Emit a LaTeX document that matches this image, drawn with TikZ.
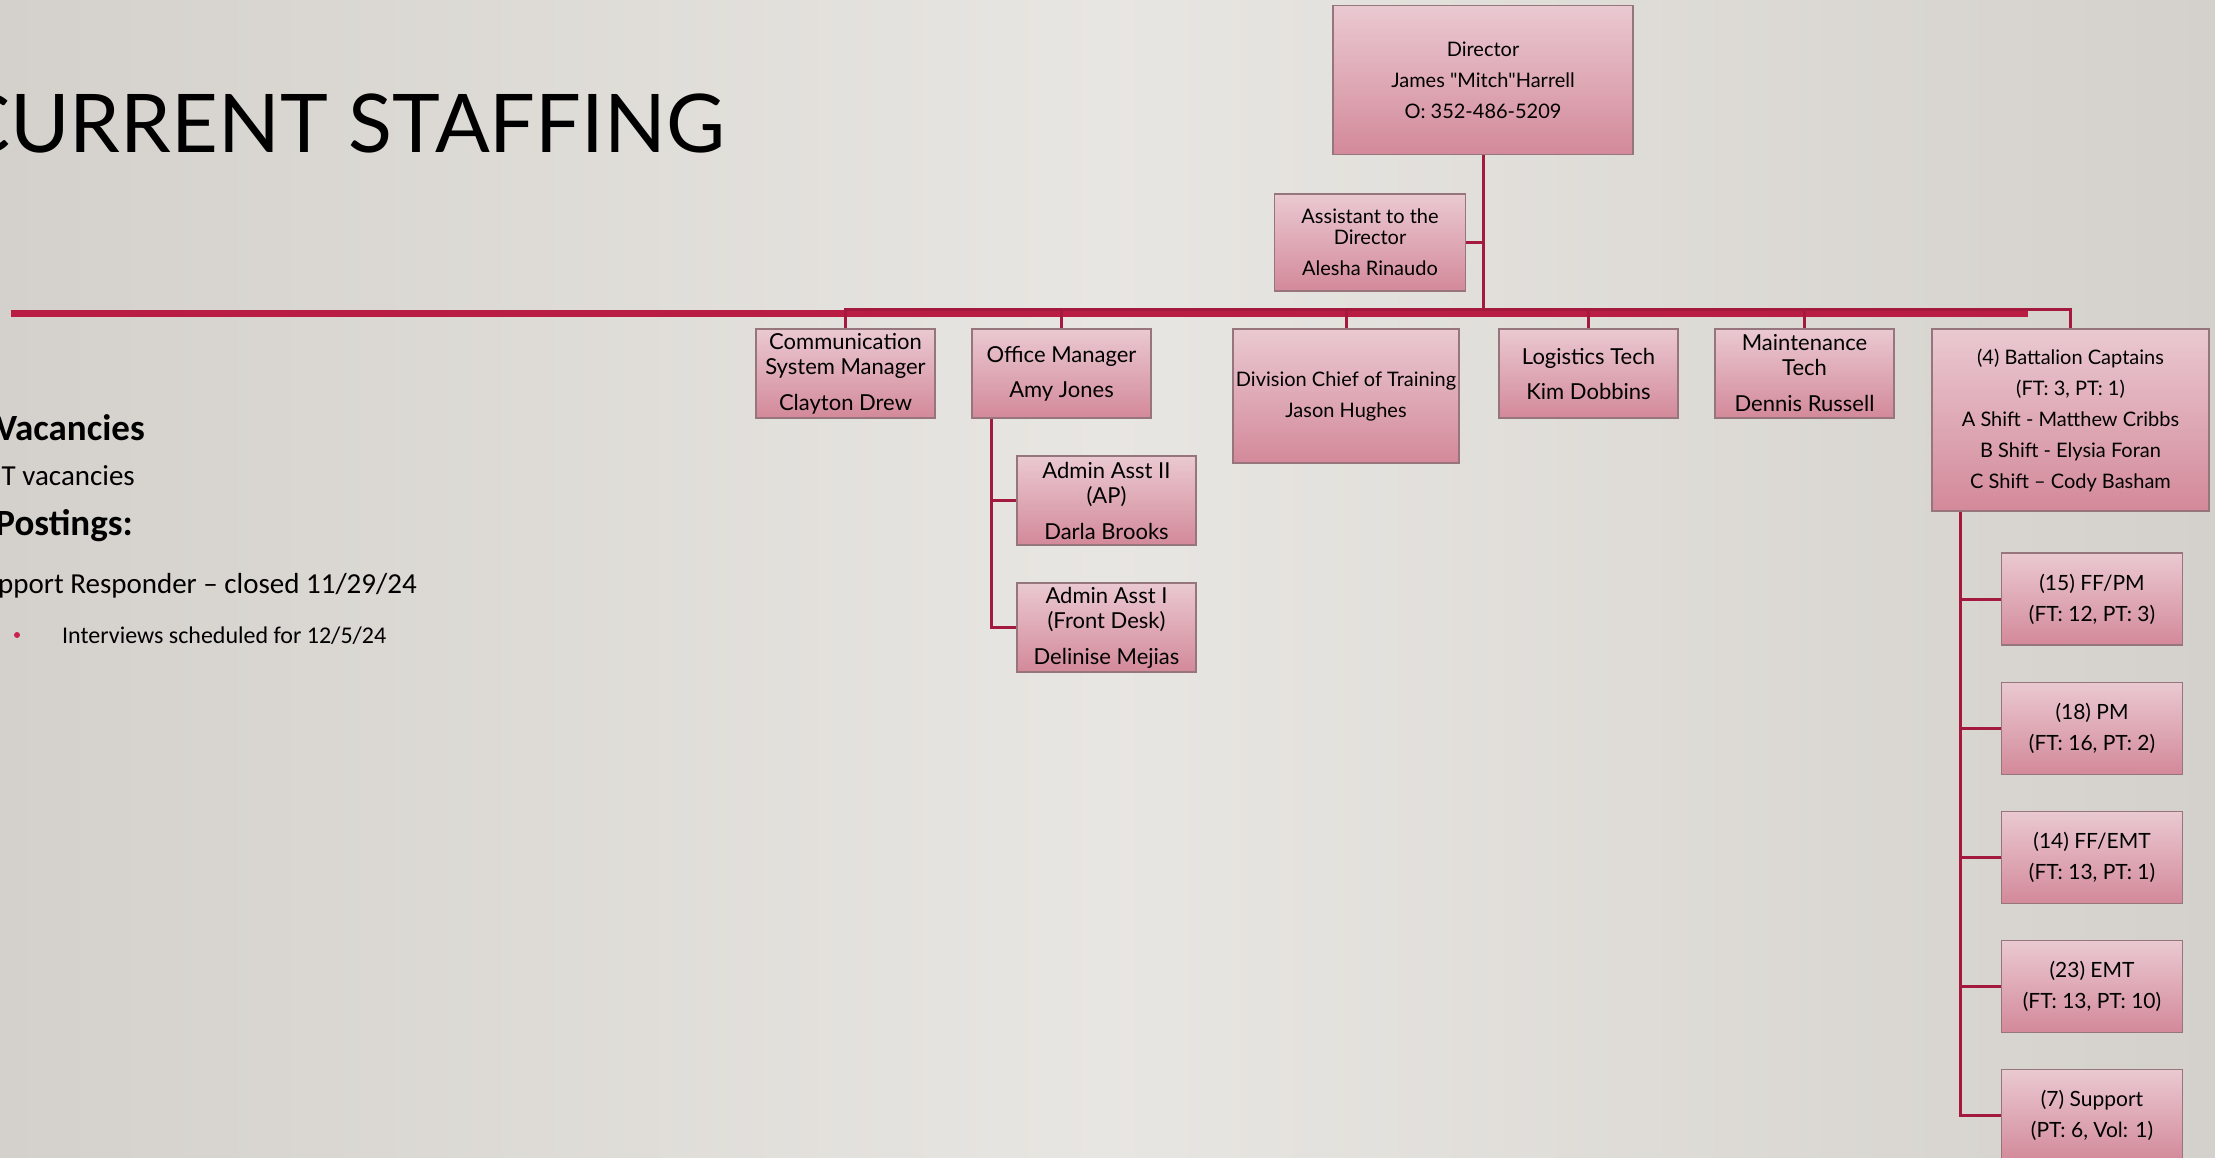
\documentclass[tikz,border=0pt]{standalone}
\usepackage{fontspec}
\setmainfont{Lato}
\newfontfamily\calibri{Carlito}
\usetikzlibrary{positioning,calc}
\definecolor{bgside}{RGB}{212,209,204}
\definecolor{bgmid}{RGB}{232,230,226}
\definecolor{crim}{RGB}{163,26,62}
\definecolor{crimbar}{RGB}{185,29,68}
\definecolor{boxtop}{RGB}{234,201,209}
\definecolor{boxbot}{RGB}{211,137,154}
\definecolor{boxline}{RGB}{150,118,124}
\definecolor{dotred}{RGB}{200,35,75}

\begin{document}
\begin{tikzpicture}[x=1pt, y=-1pt,
  post/.style={draw=boxline, line width=1.2pt, top color=boxtop, bottom color=boxbot,
    align=center, inner sep=0pt, minimum width=179pt, minimum height=89pt,
    font=\fontsize{22}{25}\selectfont},
  smallpost/.style={post, font=\fontsize{20}{31}\selectfont},
  crewpost/.style={post, minimum width=181pt, minimum height=92pt,
    font=\fontsize{21}{31}\selectfont},
  link/.style={crim, line width=3pt},
  bodytxt/.style={anchor=base east, inner sep=0pt, font=\calibri\fontsize{29}{34}\selectfont},
  headtxt/.style={anchor=base east, inner sep=0pt, font=\calibri\bfseries\fontsize{37}{44}\selectfont}]
\useasboundingbox (0,0) rectangle (2215,1157);
\clip (0,0) rectangle (2215,1157);
\shade[left color=bgside, right color=bgside, middle color=bgmid] (0,0) rectangle (2215,1157);

% title and notes
\node[anchor=base east, inner sep=0pt, font=\fontsize{81}{90}\selectfont] (title)
  at (725,152) {CURRENT STAFFING};
\draw[crimbar, line width=7pt] (11,313.5) -- (2028,313.5);
\node[headtxt] (vac) at (145,440) {Vacancies};
\node[bodytxt] (ftvac) at (135,485) {T vacancies};
\node[headtxt] (post) at (133,535) {Postings:};
\node[bodytxt] (supp) at (417,593) {pport Responder – closed 11/29/24};
\fill[dotred] (17,635) circle (3pt);
\node[anchor=base west, inner sep=0pt, font=\calibri\fontsize{24}{28}\selectfont] (intv)
  at (62,643) {Interviews scheduled for 12/5/24};

% top of the chart
\node[smallpost, minimum width=300pt, minimum height=149pt] (dir) at (1483,80)
  {Director\\{\addfontfeature{Ligatures=TeXOff}James "Mitch"Harrell}\\O: 352-486-5209};
\node[post, minimum width=191pt, minimum height=97pt, font=\fontsize{20}{21}\selectfont]
  (asst) at (1370,242.5) {Assistant to the\\Director\\[10pt]Alesha Rinaudo};

% second row
\node[post] (comm) at (845.5,373.5) {Communication\\System Manager\\[11pt]Clayton Drew};
\node[post] (off) at (1061.5,373.5) {Office Manager\\[10pt]Amy Jones};
\node[smallpost, minimum width=226pt, minimum height=134pt] (div) at (1346,396)
  {Division Chief of Training\\Jason Hughes};
\node[post] (log) at (1588.5,373.5) {Logistics Tech\\[10pt]Kim Dobbins};
\node[post] (mnt) at (1804.5,373.5) {Maintenance\\Tech\\[11pt]Dennis Russell};
\node[smallpost, minimum width=277pt, minimum height=182pt] (bat) at (2070.5,420)
  {(4) Battalion Captains\\(FT: 3, PT: 1)\\A Shift - Matthew Cribbs\\B Shift - Elysia Foran\\C Shift – Cody Basham};

% office staff
\node[post] (aa2) at (1106.5,500.5) {Admin Asst II\\(AP)\\[11pt]Darla Brooks};
\node[post] (aa1) at (1106.5,627.5) {Admin Asst I\\(Front Desk)\\[11pt]Delinise Mejias};

% crews
\node[crewpost] (ffpm) at (2092,599) {(15) FF/PM\\(FT: 12, PT: 3)};
\node[crewpost, below=36pt of ffpm] (pm) {(18) PM\\(FT: 16, PT: 2)};
\node[crewpost, below=36pt of pm] (ffemt) {(14) FF/EMT\\(FT: 13, PT: 1)};
\node[crewpost, below=36pt of ffemt] (emt) {(23) EMT\\(FT: 13, PT: 10)};
\node[crewpost, below=36pt of emt] (sup) {(7) Support\\(PT: 6, Vol: 1)};

% connectors
\coordinate (bus) at (0,309.5);
\draw[link] (dir.south) -- (dir.south |- bus);
\draw[link] (asst.east) -- (asst.east -| dir.south);
\draw[link] (comm.north) -- (comm.north |- bus) -- (bat.north |- bus) -- (bat.north);
\foreach \n in {off,div,log,mnt}
  \draw[link] (\n.north) -- (\n.north |- bus);
\coordinate (offv) at ([xshift=20pt]off.south west);
\foreach \n in {aa2,aa1}
  \draw[link] (offv) |- (\n.west);
\coordinate (batv) at ([xshift=29pt]bat.south west);
\foreach \n in {ffpm,pm,ffemt,emt,sup}
  \draw[link] (batv) |- (\n.west);
\end{tikzpicture}
\end{document}
